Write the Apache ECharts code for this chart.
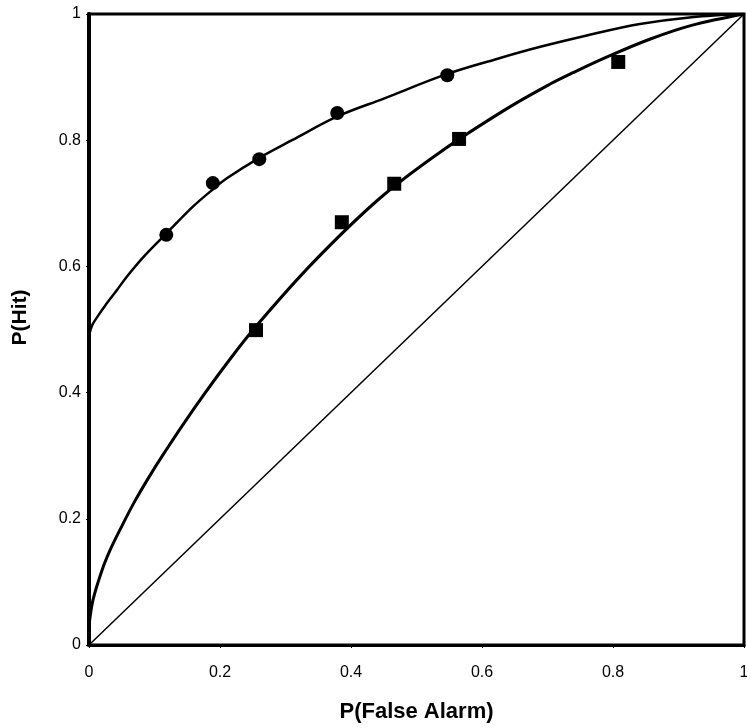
<!DOCTYPE html>
<html>
<head>
<meta charset="utf-8">
<script src="https://cdn.jsdelivr.net/npm/echarts@6/dist/echarts.min.js"></script>
<style>
html,body{margin:0;padding:0;background:#fff;}
#chart{width:747px;height:728px;}
</style>
</head>
<body>
<div id="chart"></div>
<script>
// Observed data points
const circlePoints = [[0.118,0.65],[0.189,0.732],[0.26,0.77],[0.379,0.843],[0.547,0.903]];
const squarePoints = [[0.255,0.499],[0.386,0.670],[0.466,0.731],[0.565,0.802],[0.808,0.924]];
// Fitted curves
const upperCurve = [[0,0.49],[0.005,0.507],[0.014,0.522],[0.024,0.537],[0.043,0.563],[0.058,0.584],[0.085,0.617],[0.118,0.652],[0.159,0.695],[0.189,0.722],[0.211,0.740],[0.26,0.772],[0.31,0.800],[0.38,0.838],[0.45,0.866],[0.547,0.905],[0.62,0.928],[0.689,0.948],[0.76,0.966],[0.841,0.984],[0.92,0.995],[1,1]];
const lowerCurve = [[0,0.03],[0.006,0.071],[0.02,0.119],[0.032,0.15],[0.047,0.182],[0.07,0.228],[0.098,0.277],[0.119,0.311],[0.142,0.347],[0.177,0.399],[0.208,0.443],[0.255,0.505],[0.342,0.606],[0.444,0.708],[0.536,0.781],[0.638,0.850],[0.704,0.889],[0.739,0.907],[0.791,0.932],[0.856,0.960],[0.92,0.982],[1,1]];
const chanceLine = [[0,0],[1,1]];
const xName = 'P(False Alarm)';
const yName = 'P(Hit)';

const chart = echarts.init(document.getElementById('chart'));
const font = 'Liberation Sans, Arial, sans-serif';
chart.setOption({
  animation: false,
  backgroundColor: '#fff',
  grid: {left: 89, right: 3, top: 14, bottom: 83, outerBoundsMode: 'none', containLabel: false, show: true, borderColor: '#000', borderWidth: 3, backgroundColor: 'transparent'},
  xAxis: {
    type: 'value', min: 0, max: 1, interval: 0.2,
    name: xName, nameLocation: 'middle', nameGap: 56,
    nameTextStyle: {fontFamily: font, fontSize: 22, fontWeight: 'bold', color: '#000'},
    axisLine: {lineStyle: {color: '#000', width: 3}},
    axisTick: {show: true, length: 3, lineStyle: {color: '#000', width: 1}},
    axisLabel: {fontFamily: font, fontSize: 16, color: '#000', margin: 20},
    splitLine: {show: false}
  },
  yAxis: {
    type: 'value', min: 0, max: 1, interval: 0.2,
    name: yName, nameLocation: 'middle', nameGap: 58,
    nameTextStyle: {fontFamily: font, fontSize: 21, fontWeight: 'bold', color: '#000', padding: [0, 0, 0, 24]},
    axisLine: {lineStyle: {color: '#000', width: 4}},
    axisTick: {show: true, length: 3, lineStyle: {color: '#000', width: 1}},
    axisLabel: {fontFamily: font, fontSize: 16, color: '#000', margin: 8},
    splitLine: {show: false}
  },
  series: [
    {type: 'line', data: chanceLine, showSymbol: false, lineStyle: {color: '#000', width: 1.5}, silent: true},
    {type: 'line', data: upperCurve, smooth: 0.35, showSymbol: false, lineStyle: {color: '#000', width: 2.5}, silent: true},
    {type: 'line', data: lowerCurve, smooth: 0.35, showSymbol: false, lineStyle: {color: '#000', width: 3}, silent: true},
    {type: 'scatter', data: circlePoints, symbol: 'circle', symbolSize: 14, itemStyle: {color: '#000', opacity: 1}},
    {type: 'scatter', data: squarePoints, symbol: 'rect', symbolSize: 14, itemStyle: {color: '#000', opacity: 1}}
  ]
});
</script>
</body>
</html>
